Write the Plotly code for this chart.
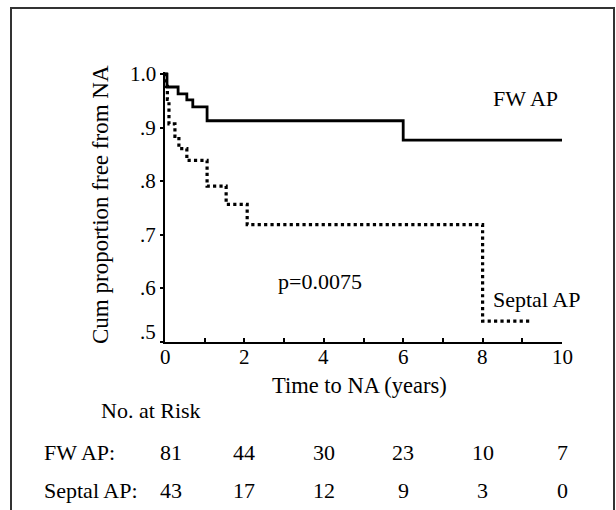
import plotly.graph_objects as go

# Kaplan-Meier step data (time in years, cumulative proportion free from NA)
fw_times = [0, 0.05, 0.33, 0.55, 0.7, 1.06, 6.0, 10.0]
fw_surv = [1.0, 0.976, 0.963, 0.952, 0.939, 0.913, 0.877, 0.877]

septal_times = [0, 0.03, 0.06, 0.1, 0.25, 0.35, 0.55, 1.06, 1.54, 2.07, 8.0, 9.25]
septal_surv = [1.0, 0.977, 0.953, 0.907, 0.884, 0.861, 0.839, 0.791, 0.757, 0.719, 0.539, 0.539]

# Axis ticks
x_tickvals = list(range(0, 11))
x_labelvals = [0, 2, 4, 6, 8, 10]
x_ticktext = ["0", "2", "4", "6", "8", "10"]
y_tickvals = [0.5, 0.6, 0.7, 0.8, 0.9, 1.0]
y_ticktext = [".5", ".6", ".7", ".8", ".9", "1.0"]

# Number at risk table
risk_times = [0, 2, 4, 6, 8, 10]
risk_fw = [81, 44, 30, 23, 10, 7]
risk_septal = [43, 17, 12, 9, 3, 0]

FONT = "Liberation Serif, Times New Roman, serif"
FS = 22


def f(size=FS):
    return dict(size=size, family=FONT, color="black")


fig = go.Figure()
fig.add_trace(go.Scatter(x=fw_times, y=fw_surv, mode="lines",
                         line=dict(shape="hv", color="black", width=2.8),
                         showlegend=False, hoverinfo="skip"))
fig.add_trace(go.Scatter(x=septal_times, y=septal_surv, mode="lines",
                         line=dict(shape="hv", color="black", width=3.2, dash="dot"),
                         showlegend=False, hoverinfo="skip"))

W, H = 616, 510
L, R, T, B = 165, 54, 72, 168

ann = []
ann.append(dict(text="FW AP", x=9.07, y=0.955, xref="x", yref="y", font=f()))
ann.append(dict(text="Septal AP", x=9.35, y=0.58, xref="x", yref="y", font=f()))
ann.append(dict(text="p=0.0075", x=3.9, y=0.613, xref="x", yref="y", font=f()))
ann.append(dict(text="Time to NA (years)", x=359, y=H - 385, xref="paper", yref="paper",
                font=f(22.5)))
ann.append(dict(text="Cum proportion free from NA", x=100, y=H - 205, textangle=-90,
                xref="paper", yref="paper", font=f(23)))
ann.append(dict(text="No. at Risk", x=151, y=H - 410, xref="paper", yref="paper", font=f()))
ann.append(dict(text="FW AP:", x=42, y=H - 452, xref="paper", yref="paper",
                xanchor="left", font=f()))
ann.append(dict(text="Septal AP:", x=42, y=H - 490, xref="paper", yref="paper",
                xanchor="left", font=f()))
for i, (t, a, b) in enumerate(zip(risk_times, risk_fw, risk_septal)):
    xs = 6 if i == 0 else 0
    ann.append(dict(text=str(a), x=t, y=H - 452, xref="x", yref="paper", xshift=xs, font=f()))
    ann.append(dict(text=str(b), x=t, y=H - 490, xref="x", yref="paper", xshift=xs, font=f()))
# x tick labels
for v, s in zip(x_labelvals, x_ticktext):
    ann.append(dict(text=s, x=v, y=H - 357, xref="x", yref="paper", font=f(21)))
# y tick labels (".5" sits a little above its tick, as in the original)
for v, s in zip(y_tickvals, y_ticktext):
    ann.append(dict(text=s, x=158, y=v, xref="paper", yref="y", xanchor="right",
                    yshift=10 if v == 0.5 else 0, font=f(21)))

# convert the pixel-based paper annotations to paper fractions
for a in ann:
    a["showarrow"] = False
    a.setdefault("xanchor", "center")
    a["yanchor"] = "middle"
    if a.get("xref") == "paper":
        a["x"] = (a["x"] - L) / (W - L - R)
    if a.get("yref") == "paper":
        a["y"] = (a["y"] - B) / (H - T - B)

fig.update_layout(
    width=W, height=H,
    margin=dict(l=L, r=R, t=T, b=B),
    paper_bgcolor="white", plot_bgcolor="white",
    font=dict(family=FONT, size=FS, color="black"),
    annotations=ann,
    shapes=[dict(type="rect", xref="paper", yref="paper",
                 x0=(11 - L) / (W - L - R), x1=(614 - L) / (W - L - R),
                 y0=(-30 - B) / (H - T - B), y1=(502 - B) / (H - T - B),
                 line=dict(color="#333333", width=2), layer="below")],
    xaxis=dict(range=[0, 10], tickvals=x_tickvals, showticklabels=False,
               showgrid=False, zeroline=False, showline=True, linecolor="black",
               linewidth=2, ticks="inside", ticklen=4, tickwidth=1.5, tickcolor="black"),
    yaxis=dict(range=[0.5, 1.004], tickvals=y_tickvals, showticklabels=False,
               showgrid=False, zeroline=False, showline=True, linecolor="black",
               linewidth=2, ticks="outside", ticklen=3, tickwidth=2, tickcolor="black"),
)

fig.write_html("out.html", config={"displayModeBar": False},
               post_script="document.body.style.margin='0';")
